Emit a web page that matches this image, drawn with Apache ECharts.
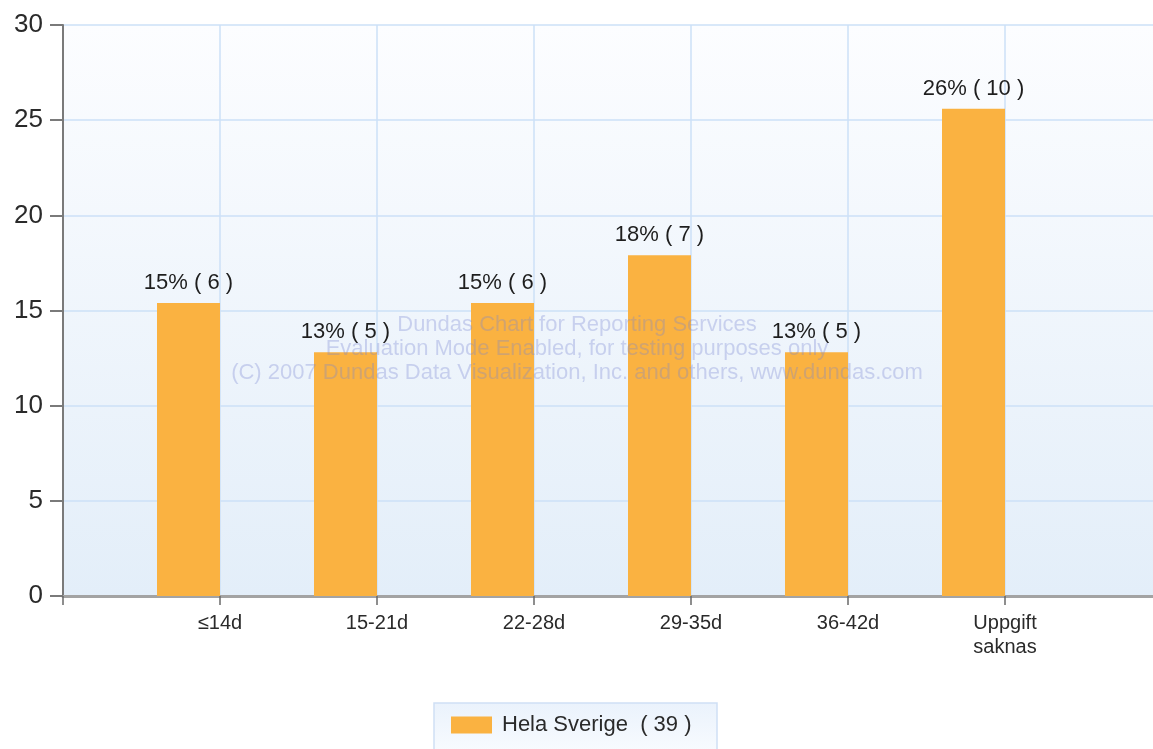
<!DOCTYPE html>
<html>
<head>
<meta charset="utf-8">
<script src="https://cdn.jsdelivr.net/npm/echarts@6/dist/echarts.min.js"></script>
<style>
  html, body { margin: 0; padding: 0; background: #fff; }
  #main { width: 1153px; height: 749px; }
</style>
</head>
<body>
<div id="main"></div>
<script>
// categories (first and last are empty slots so the ticks line up like the original)
var categories = ['', '≤14d', '15-21d', '22-28d', '29-35d', '36-42d', 'Uppgift\nsaknas', ''];
// share of total in percent
var percents = ['-', 15.4, 12.8, 15.4, 17.9, 12.8, 25.6, '-'];
// counts shown in the labels
var counts = [null, 6, 5, 6, 7, 5, 10, null];
var seriesName = 'Hela Sverige  ( 39 )';
var yTicks = [0, 5, 10, 15, 20, 25, 30];
var watermark = [
  'Dundas Chart for Reporting Services',
  'Evaluation Mode Enabled, for testing purposes only',
  '(C) 2007 Dundas Data Visualization, Inc. and others, www.dundas.com'
];

var myChart = echarts.init(document.getElementById('main'));

// watermark lines over the plot
var graphics = watermark.map(function (t, i) {
  return {
    type: 'text',
    z: 100,
    x: 577,
    y: 325 + i * 24,
    style: {
      text: t,
      fill: 'rgba(120,135,210,0.33)',
      font: '22px Liberation Sans, Arial, sans-serif',
      textAlign: 'center',
      textVerticalAlign: 'middle'
    }
  };
});
// legend frame
graphics.push({
  type: 'rect',
  z: 0,
  shape: { x: 434, y: 703, width: 283, height: 60 },
  style: {
    fill: new echarts.graphic.LinearGradient(0, 0, 0, 1, [
      { offset: 0, color: '#eaf2fc' },
      { offset: 1, color: '#fbfdff' }
    ]),
    stroke: '#cfe0f5',
    lineWidth: 1.5
  }
});

myChart.setOption({
  textStyle: { fontFamily: 'Liberation Sans, Arial, sans-serif' },
  animation: false,
  grid: {
    left: 63,
    right: -9,
    top: 25,
    bottom: 153,
    outerBoundsMode: 'none',
    containLabel: false,
    show: true,
    borderWidth: 0,
    backgroundColor: new echarts.graphic.LinearGradient(0, 0, 0, 1, [
      { offset: 0, color: '#fcfdff' },
      { offset: 1, color: '#e3eef9' }
    ])
  },
  legend: {
    data: [seriesName],
    top: 714,
    left: 451,
    itemWidth: 41,
    itemHeight: 17,
    itemGap: 0,
    padding: 0,
    z: 5,
    icon: 'rect',
    textStyle: { fontSize: 22, color: '#2a2a2a', padding: [0, 0, 0, 5] }
  },
  xAxis: {
    type: 'category',
    data: categories,
    boundaryGap: false,
    axisLine: { lineStyle: { color: '#a3a3a3', width: 3 } },
    axisTick: { show: true, length: 9, lineStyle: { color: '#6a6a6a', width: 1.5 } },
    axisLabel: { fontSize: 20, color: '#2a2a2a', margin: 15, interval: 0, lineHeight: 24 },
    splitLine: { show: true, lineStyle: { color: '#cde0f7', width: 1.5 } }
  },
  yAxis: {
    type: 'value',
    min: yTicks[0],
    max: yTicks[yTicks.length - 1],
    interval: 5,
    axisLine: { show: true, lineStyle: { color: '#7a7a7a', width: 2 } },
    axisTick: { show: true, length: 13, lineStyle: { color: '#7a7a7a', width: 2 } },
    axisLabel: { fontSize: 26, color: '#2a2a2a', margin: 20 },
    splitLine: { show: true, lineStyle: { color: '#cde0f7', width: 1.5 } }
  },
  series: [
    {
      name: seriesName,
      type: 'bar',
      data: percents,
      barWidth: 63,
      barGap: '0%',
      itemStyle: { color: '#fab241' },
      label: {
        show: true,
        position: 'top',
        distance: 9,
        fontSize: 22,
        color: '#1e1e1e',
        formatter: function (p) {
          return Math.round(p.value) + '% ( ' + counts[p.dataIndex] + ' )';
        }
      }
    },
    {
      name: 'empty',
      type: 'bar',
      data: [],
      barWidth: 63
    }
  ],
  graphic: graphics
});
</script>
</body>
</html>
